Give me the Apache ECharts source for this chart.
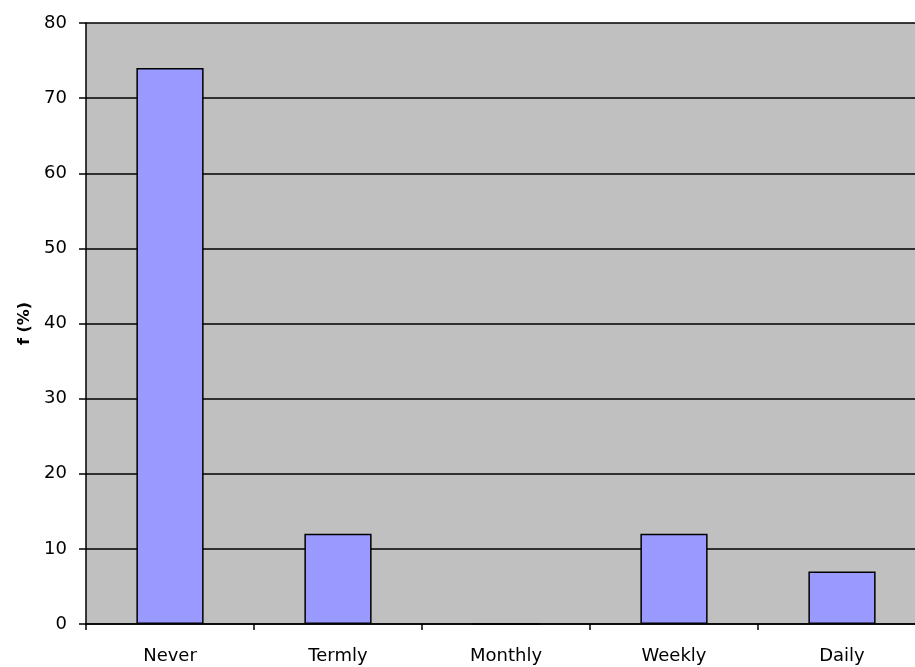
<!DOCTYPE html>
<html>
<head>
<meta charset="utf-8">
<style>html,body{margin:0;padding:0;background:#fff;overflow:hidden;width:915px;height:667px;}#c{width:926px;height:667px;}</style>
<script src="https://cdn.jsdelivr.net/npm/echarts@6/dist/echarts.min.js"></script>
</head>
<body>
<div id="c"></div>
<script>
var categories = ["Never", "Termly", "Monthly", "Weekly", "Daily"];
var values = [74, 12, 0, 12, 7];
var yTicks = { min: 0, max: 80, interval: 10 };

var chart = echarts.init(document.getElementById('c'), null, { renderer: 'canvas' });
chart.setOption({
  animation: false,
  backgroundColor: '#ffffff',
  grid: { left: 86, top: 23, right: 0, bottom: 43, show: true, backgroundColor: '#C0C0C0', borderWidth: 0 },
  xAxis: {
    type: 'category',
    data: categories,
    boundaryGap: true,
    axisLine: { lineStyle: { color: '#000', width: 1.5 } },
    axisTick: { show: true, length: 6, lineStyle: { color: '#000', width: 1.5 } },
    axisLabel: { color: '#000', fontFamily: 'DejaVu Sans', fontSize: 18, margin: 23 },
    splitLine: { show: false }
  },
  yAxis: {
    type: 'value',
    min: yTicks.min, max: yTicks.max, interval: yTicks.interval,
    name: 'f (%)',
    nameLocation: 'middle',
    nameGap: 53,
    nameRotate: 90,
    nameTextStyle: { color: '#000', fontFamily: 'DejaVu Sans', fontSize: 16, fontWeight: 'bold' },
    axisLine: { show: true, lineStyle: { color: '#000', width: 1.5 } },
    axisTick: { show: true, length: 7, lineStyle: { color: '#000', width: 1.5 } },
    axisLabel: { color: '#000', fontFamily: 'DejaVu Sans', fontSize: 18, margin: 19 },
    splitLine: { show: true, lineStyle: { color: '#000', width: 1.5 } }
  },
  series: [{
    type: 'bar',
    data: values,
    barWidth: '40%',
    itemStyle: { color: '#9999FF', borderColor: '#000', borderWidth: 1.5 }
  }]
});
</script>
</body>
</html>
